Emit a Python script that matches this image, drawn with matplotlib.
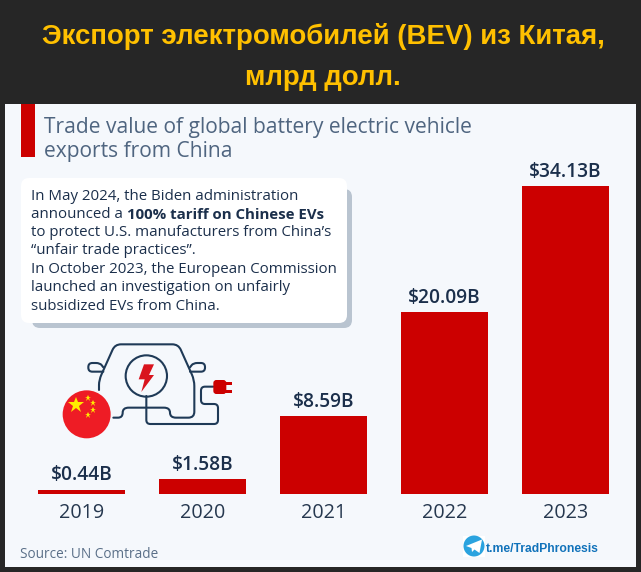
import matplotlib
matplotlib.use('Agg')
import matplotlib.pyplot as plt
import numpy as np
from matplotlib.patches import Circle, FancyBboxPatch, PathPatch, Polygon, Rectangle
from matplotlib.path import Path

W, H = 641, 572
SANS = 'Open Sans'

years = ['2019', '2020', '2021', '2022', '2023']
values = [0.44, 1.58, 8.59, 20.09, 34.13]

title_lines = ['Экспорт электромобилей (BEV) из Китая,', 'млрд долл.']
subtitle_lines = ['Trade value of global battery electric vehicle', 'exports from China']
source_text = 'Source: UN Comtrade'
link_text = 't.me/TradPhronesis'

RED = '#CC0000'
NAVY = '#1B2F4B'
LINE = '#1F3A57'


def rounded(points, r=5.0):
    """Path through points with small rounded corners."""
    pts = [np.array(p, dtype=float) for p in points]
    verts, codes = [pts[0]], [Path.MOVETO]
    for prev, cur, nxt in zip(pts, pts[1:], pts[2:]):
        a = cur - prev
        b = nxt - cur
        ra = min(r, np.linalg.norm(a) / 2)
        rb = min(r, np.linalg.norm(b) / 2)
        verts += [cur - a / np.linalg.norm(a) * ra, cur, cur + b / np.linalg.norm(b) * rb]
        codes += [Path.LINETO, Path.CURVE3, Path.CURVE3]
    verts.append(pts[-1])
    codes.append(Path.LINETO)
    return Path(verts, codes)


def z(x, y):
    return (x / 3, 330 + y / 3)


fig = plt.figure(figsize=(W / 100, H / 100), dpi=100, facecolor='#262626')

# overlay in pixel coordinates for the page furniture
bg = fig.add_axes([0, 0, 1, 1], zorder=0)
bg.set_xlim(0, W)
bg.set_ylim(H, 0)
bg.axis('off')

bg.add_patch(Rectangle((5, 104), 631, 463, fc='#F5F8FC', ec='none'))
bg.add_patch(Rectangle((21, 104), 14, 53, fc=RED, ec='none'))

for y, line in zip([37, 78], title_lines):
    bg.text(323, y, line, ha='center', va='center', color='#FFC000', fontsize=19.9,
            fontweight='bold', family='Liberation Sans')

for y, line in zip([127, 152], subtitle_lines):
    bg.text(44, y, line, ha='left', va='center', color='#4F6580', fontsize=15.15, family=SANS)

# callout box
bg.add_patch(FancyBboxPatch((32, 189), 320, 139, boxstyle='round,pad=0,rounding_size=8',
                            fc='#B9C4D0', ec='none'))
bg.add_patch(FancyBboxPatch((21, 178), 326, 145, boxstyle='round,pad=0,rounding_size=8',
                            fc='white', ec='none'))
box_size = 10.8
box_kw = dict(ha='left', va='center', color=NAVY, fontsize=box_size, family=SANS)
bg.text(31, 197, 'In May 2024, the Biden administration', **box_kw)
first = bg.text(31, 215, 'announced a ', **box_kw)
bg.annotate('100% tariff on Chinese EVs', xy=(1, 0.5), xycoords=first, va='center', ha='left',
            color=NAVY, fontsize=box_size, fontweight='bold', family=SANS)
bg.text(31, 233, 'to protect U.S. manufacturers from China’s', **box_kw)
bg.text(31, 251, '“unfair trade practices”.', **box_kw)
bg.text(31, 269.5, 'In October 2023, the European Commission', **box_kw)
bg.text(31, 287.5, 'launched an investigation on unfairly', **box_kw)
bg.text(31, 306, 'subsidized EVs from China.', **box_kw)

# car icon
car = [(297, 180), (297, 150), (345, 43), (535, 43), (583, 150), (583, 263), (510, 263),
       (510, 233), (368, 233), (368, 263), (340, 263)]
cable = [(439, 198), (439, 282), (654, 282), (654, 222), (603, 222), (603, 170), (640, 170)]
mirror_l = [(310, 125), (265, 125), (265, 99), (300, 99), (310, 112)]
mirror_r = [(570, 125), (615, 125), (615, 99), (580, 99), (570, 112)]
for pts, r in [(car, 6), (cable, 4), (mirror_l, 4), (mirror_r, 4)]:
    bg.add_patch(PathPatch(rounded([z(*p) for p in pts], r), fc='none', ec=LINE, lw=1.5,
                           capstyle='round', joinstyle='round'))
bg.add_patch(Circle(z(439, 138), 62 / 3, fc='none', ec=LINE, lw=1.5))
bolt = [(432, 103), (462, 103), (447, 135), (462, 135), (424, 186), (434, 148), (416, 148)]
bg.add_patch(Polygon([z(*p) for p in bolt], fc='#D9141E', ec='none'))

# plug
bg.add_patch(FancyBboxPatch(z(640, 150), 13, 14, boxstyle='round,pad=0,rounding_size=3',
                            fc=RED, ec='none'))
bg.add_patch(Rectangle(z(676, 157), 7, 3, fc=RED, ec='none'))
bg.add_patch(Rectangle(z(676, 180), 7, 3, fc=RED, ec='none'))

# flag
bg.add_patch(Circle(z(260, 253), 24, fc='#EE1C25', ec='none'))
bg.plot(*z(228, 226), marker='*', ms=12, color='#FFEB00', mew=0)
for sx, sy in [(264, 203), (278, 218), (278, 240), (264, 255)]:
    bg.plot(*z(sx, sy), marker='*', ms=5, color='#FFEB00', mew=0)

# footer
bg.text(20, 554.5, source_text, ha='left', va='center', color='#5A6F88', fontsize=9.8, family=SANS)
bg.add_patch(Rectangle((463, 535.5), 22, 21, fc='white', ec='none'))
bg.add_patch(Circle((474, 546), 10.5, fc='#2AA3DF', ec='none'))
bg.add_patch(Polygon([(466, 546), (482, 539.5), (479.5, 553), (474.5, 549.5), (472, 552),
                      (471.5, 548)], fc='white', ec='none'))
bg.text(486, 549, link_text, ha='left', va='center', color='#1072BA', fontsize=8.7,
        fontweight='bold', family='Liberation Sans')

# bar chart, baseline at y=493.5 and about 9 px per billion
ymax = 36
px_per_unit = 9.01
left, right = 21, 626
base = 493.5
ax = fig.add_axes([left / W, 1 - base / H, (right - left) / W, ymax * px_per_unit / H], zorder=2)
ax.patch.set_alpha(0)
bars = ax.bar(np.arange(len(years)), values, width=0.72, color=RED)
ax.set_xlim(-0.5, 4.5)
ax.set_ylim(0, ymax)
ax.set_xticks(np.arange(len(years)), years)
ax.set_yticks([])
ax.tick_params(axis='x', length=0, pad=7, labelsize=14.2, labelcolor='#26384F')
for lab in ax.get_xticklabels():
    lab.set_family(SANS)
for s in ax.spines.values():
    s.set_visible(False)
labels = ax.bar_label(bars, labels=[f'${v:.2f}B' for v in values], padding=3, color=NAVY,
                      fontsize=13.8, fontweight='semibold', family=SANS)

fig.savefig('out.png', dpi=100, facecolor=fig.get_facecolor())
